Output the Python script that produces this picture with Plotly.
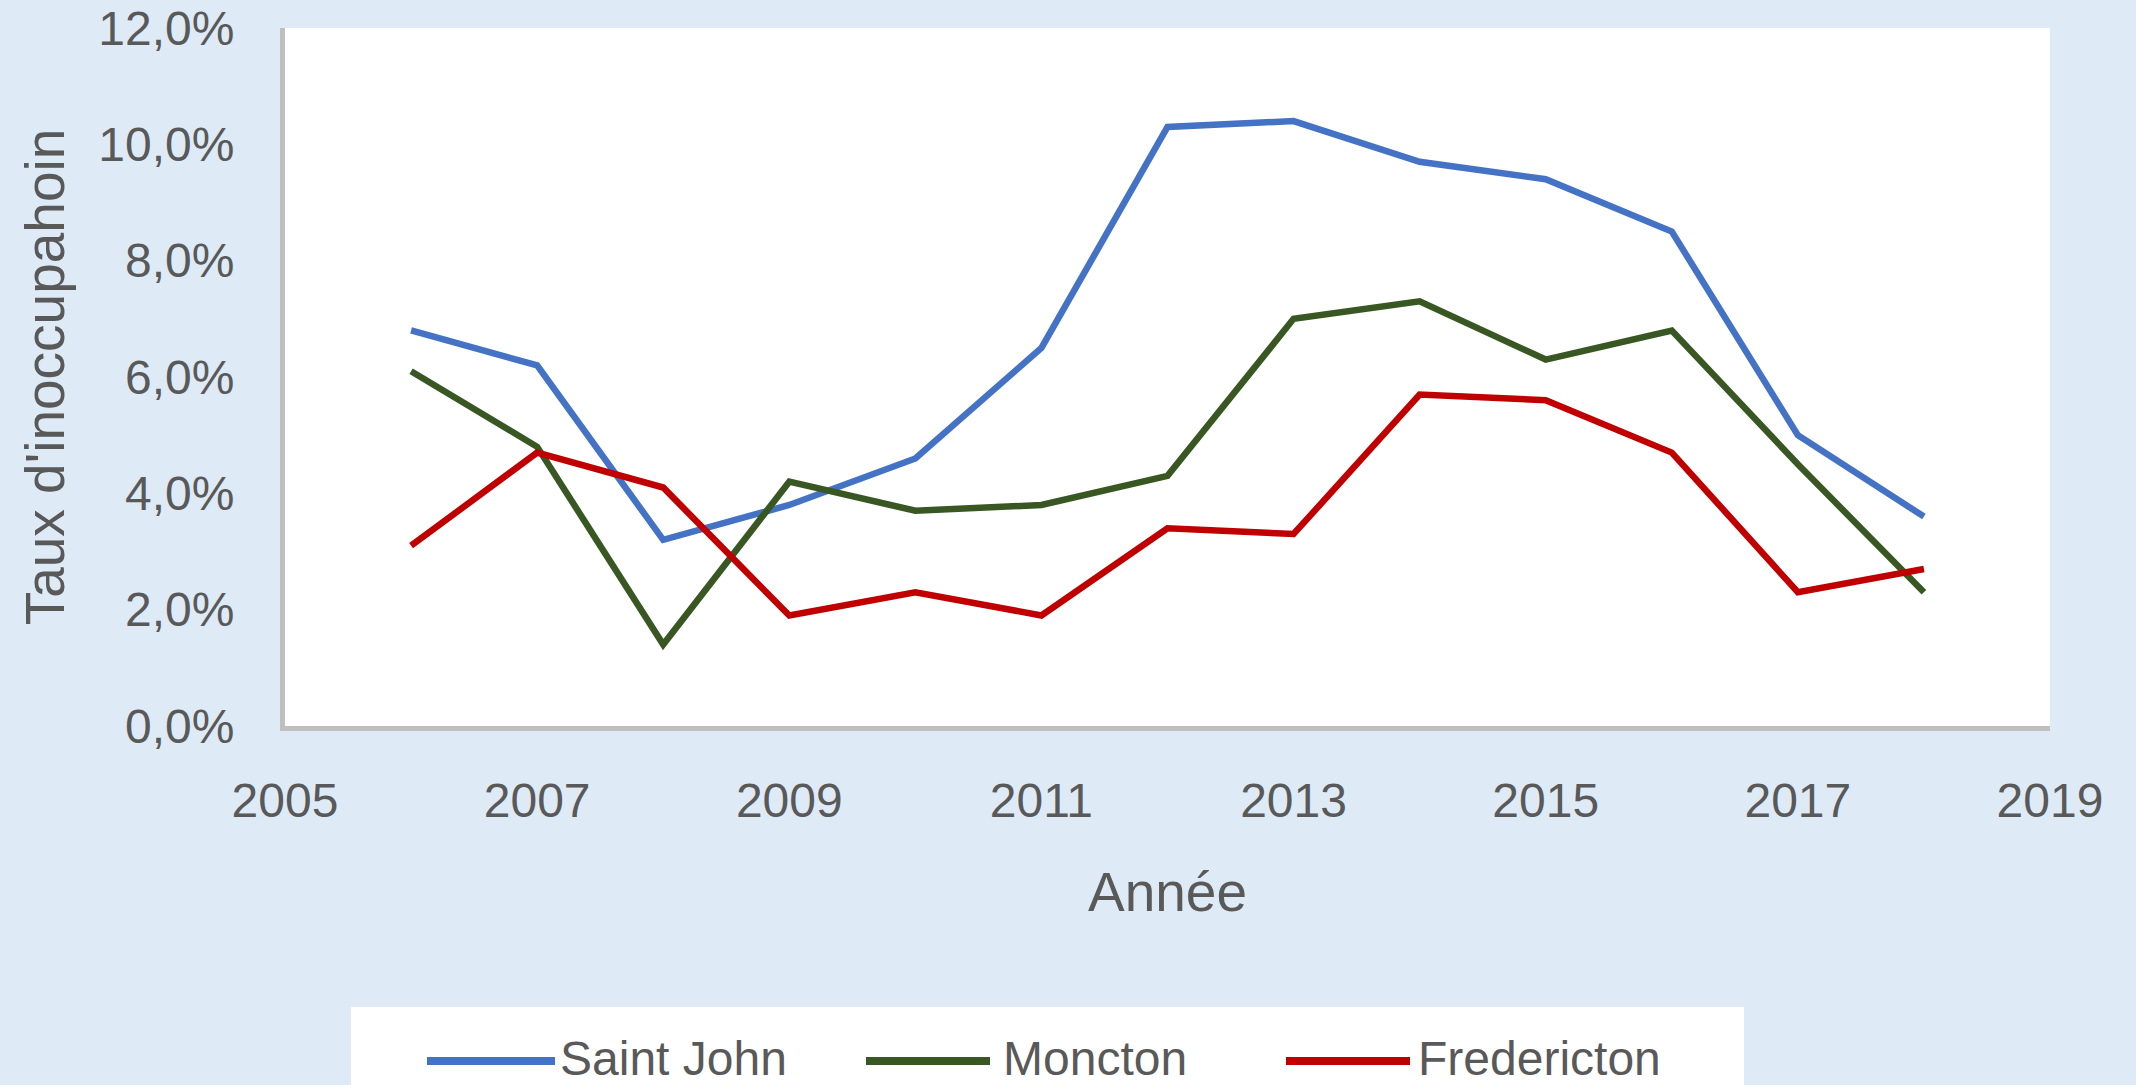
import plotly.graph_objects as go

years = [2006, 2007, 2008, 2009, 2010, 2011, 2012, 2013, 2014, 2015, 2016, 2017, 2018]
series_names = ["Saint John", "Moncton", "Fredericton"]
saint_john = [0.068, 0.062, 0.032, 0.038, 0.046, 0.065, 0.103, 0.104, 0.097, 0.094, 0.085, 0.050, 0.036]
moncton = [0.061, 0.048, 0.014, 0.042, 0.037, 0.038, 0.043, 0.070, 0.073, 0.063, 0.068, 0.045, 0.023]
fredericton = [0.031, 0.047, 0.041, 0.019, 0.023, 0.019, 0.034, 0.033, 0.057, 0.056, 0.047, 0.023, 0.027]
colors = ["#4472C4", "#385723", "#C00000"]

W, H = 2136, 1085
L, R, T, B = 285, 2050, 28, 726
FONT = "Liberation Sans, Arial, sans-serif"
TXT = "#595959"
FS = 48
TFS = 55

fig = go.Figure()
for name, vals, c in zip(series_names, [saint_john, moncton, fredericton], colors):
    fig.add_trace(go.Scatter(x=years, y=vals, name=name, mode="lines",
                             line=dict(color=c, width=6.5), showlegend=False))

def px(x):
    return (x - L) / (R - L)

def py(y):
    return (B - y) / (B - T)

shapes = [dict(type="rect", xref="paper", yref="paper", x0=px(351), x1=px(1744),
               y0=py(1007), y1=py(1120), fillcolor="white", line=dict(width=0), layer="below")]
annotations = []
line_x = [(427, 555), (866, 990), (1286, 1410)]
text_x = [558, 1001, 1416]
for (a, b), tx, name, c in zip(line_x, text_x, series_names, colors):
    shapes.append(dict(type="line", xref="paper", yref="paper", x0=px(a), x1=px(b),
                       y0=py(1061), y1=py(1061), line=dict(color=c, width=8)))
    annotations.append(dict(xref="paper", yref="paper", x=px(tx), y=py(1058), text=name,
                            showarrow=False, xanchor="left", yanchor="middle",
                            font=dict(family=FONT, size=FS, color=TXT)))

fig.update_layout(
    width=W, height=H,
    margin=dict(l=L, r=W - R, t=T, b=H - B, autoexpand=False),
    paper_bgcolor="#DEEBF7", plot_bgcolor="white",
    separators=", ",
    font=dict(family=FONT, size=FS, color=TXT),
    shapes=shapes, annotations=annotations,
    showlegend=False,
)
fig.update_xaxes(range=[2005, 2019], tick0=2005, dtick=2, showgrid=False, zeroline=False,
                 showline=True, linecolor="#BFBFBF", linewidth=5, ticks="",
                 ticklabelstandoff=28, automargin=False,
                 title=dict(text="Année", standoff=48, font=dict(size=TFS, color=TXT)),
                 tickfont=dict(size=FS, color=TXT))
fig.update_yaxes(range=[0, 0.12], dtick=0.02, tickformat=".1%", showgrid=False, zeroline=False,
                 showline=True, linecolor="#BFBFBF", linewidth=5, ticks="",
                 ticklabelstandoff=36, automargin=False,
                 title=dict(text="Taux d'inoccupahoin", standoff=18, font=dict(size=TFS, color=TXT)),
                 tickfont=dict(size=FS, color=TXT))

fig.write_html("out.html", config={"displayModeBar": False},
               post_script="document.body.style.margin='0';")
